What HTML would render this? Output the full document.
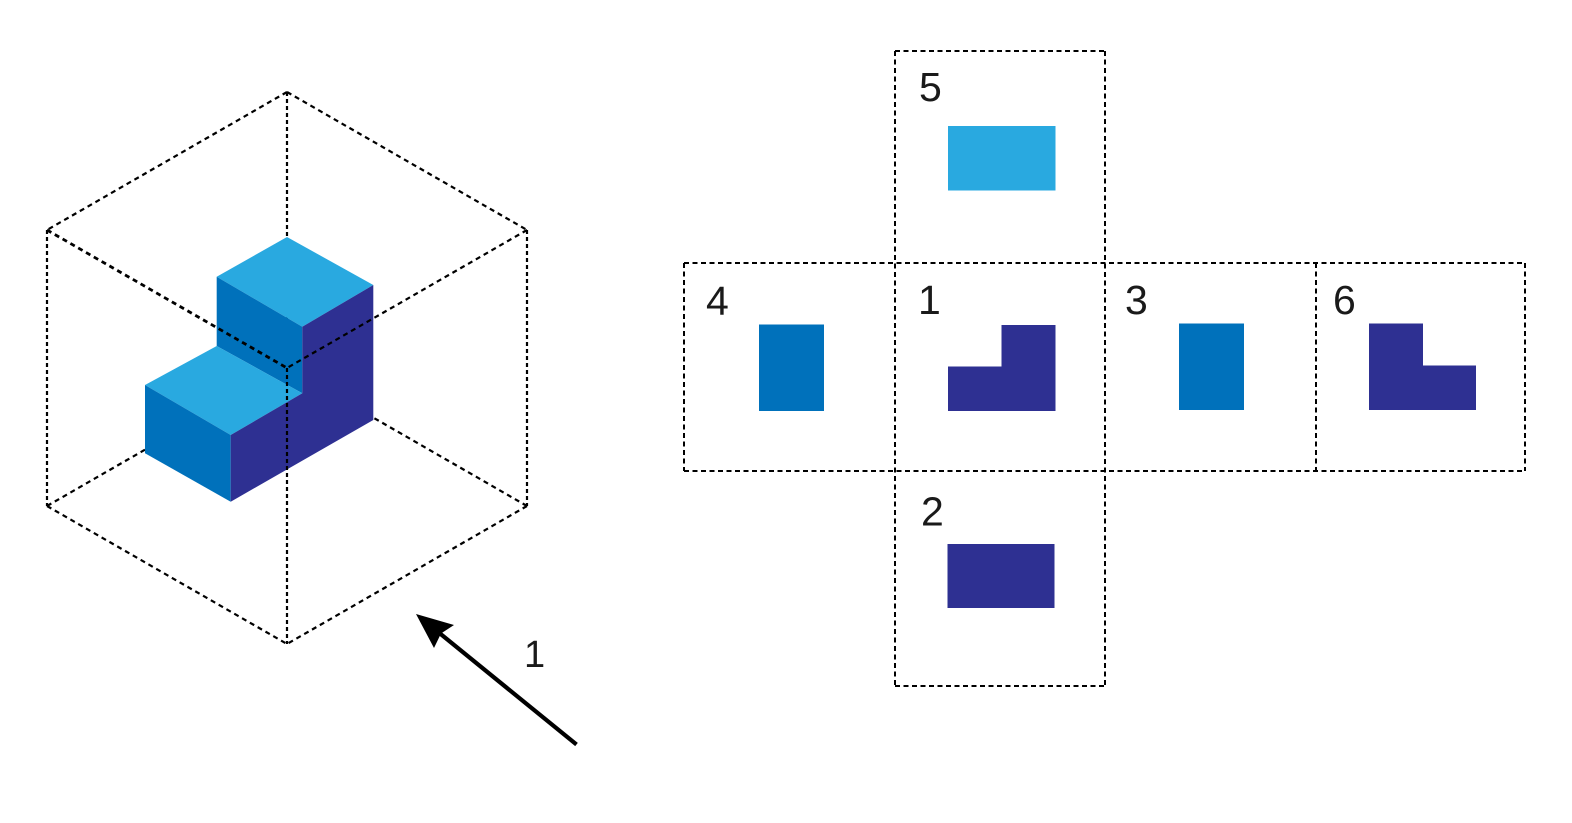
<!DOCTYPE html>
<html>
<head>
<meta charset="utf-8">
<style>
  html,body{margin:0;padding:0;background:#fff;}
  body{width:1572px;height:823px;overflow:hidden;}
  svg{display:block;}
  text{font-family:"Liberation Sans", sans-serif;fill:#1a1a1a;}
</style>
</head>
<body>
<svg width="1572" height="823" viewBox="0 0 1572 823" xmlns="http://www.w3.org/2000/svg">
  <rect x="0" y="0" width="1572" height="823" fill="#fff"/>

  <!-- Hidden back edges (under the cube) -->
  <g stroke="#000" stroke-width="2.2" fill="none">
    <line x1="287" y1="92" x2="287" y2="368" stroke-dasharray="4 3"/>
    <line x1="47" y1="506" x2="287" y2="368" stroke-dasharray="5 4"/>
    <line x1="527" y1="506" x2="287" y2="368" stroke-dasharray="5 4"/>
  </g>

  <!-- Cube shape -->
  <polygon points="287,237 216.7,276.7 302.3,326.7 373.3,285" fill="#29A9E0"/>
  <polygon points="216.7,276.7 302.3,326.7 302.3,393.3 216.7,346" fill="#0071BB"/>
  <polygon points="216.7,346 145,385 230.7,435 302.3,393.3" fill="#29A9E0"/>
  <polygon points="145,385 230.7,435 230.7,501.7 145,453.3" fill="#0071BB"/>
  <polygon points="373.3,285 302.3,326.7 302.3,393.3 230.7,435 230.7,501.7 373.3,420" fill="#2E3092"/>

  <!-- Outer and front dashed edges -->
  <g stroke="#000" stroke-width="2.2" fill="none">
    <line x1="287" y1="92" x2="47" y2="230" stroke-dasharray="5 4"/>
    <line x1="287" y1="92" x2="527" y2="230" stroke-dasharray="5 4"/>
    <line x1="47" y1="230" x2="47" y2="506" stroke-dasharray="4 3"/>
    <line x1="527" y1="230" x2="527" y2="506" stroke-dasharray="4 3"/>
    <line x1="47" y1="506" x2="287" y2="644" stroke-dasharray="5 4"/>
    <line x1="527" y1="506" x2="287" y2="644" stroke-dasharray="5 4"/>
    <line x1="47" y1="230" x2="287" y2="368" stroke-dasharray="5 4" stroke-width="2.8"/>
    <line x1="527" y1="230" x2="287" y2="368" stroke-dasharray="5 4"/>
    <line x1="287" y1="368" x2="287" y2="644" stroke-dasharray="4 3"/>
  </g>

  <!-- Arrow -->
  <line x1="576.5" y1="744.5" x2="432" y2="627" stroke="#000" stroke-width="4.2" stroke-linecap="butt"/>
  <polygon points="416,614 454,625 441,633.5 434,648" fill="#000"/>
  <text x="524" y="667" font-size="38">1</text>

  <!-- Net dashed grid -->
  <g stroke="#000" stroke-width="2" fill="none" stroke-dasharray="5 3.5">
    <line x1="895" y1="51" x2="1105" y2="51"/>
    <line x1="684" y1="263" x2="1525" y2="263"/>
    <line x1="684" y1="471" x2="1525" y2="471"/>
    <line x1="895" y1="686" x2="1105" y2="686"/>
    <line x1="684" y1="263" x2="684" y2="471"/>
    <line x1="895" y1="51" x2="895" y2="686"/>
    <line x1="1105" y1="51" x2="1105" y2="686"/>
    <line x1="1316" y1="263" x2="1316" y2="471"/>
    <line x1="1525" y1="263" x2="1525" y2="471"/>
  </g>

  <!-- Net faces -->
  <rect x="948" y="126" width="107.5" height="64.5" fill="#29A9E0"/>
  <rect x="759" y="324.5" width="65" height="86.5" fill="#0071BB"/>
  <polygon points="948,366.5 1001.5,366.5 1001.5,325 1055.5,325 1055.5,411 948,411" fill="#2E3092"/>
  <rect x="1179" y="323.5" width="65" height="86.5" fill="#0071BB"/>
  <polygon points="1369,323.5 1423,323.5 1423,365.5 1476,365.5 1476,410 1369,410" fill="#2E3092"/>
  <rect x="947.5" y="544" width="107" height="64" fill="#2E3092"/>

  <!-- Net labels -->
  <g font-size="41">
    <text x="919" y="101">5</text>
    <text x="706" y="315">4</text>
    <text x="918" y="314">1</text>
    <text x="1125" y="314">3</text>
    <text x="1333" y="314">6</text>
    <text x="921" y="525.5">2</text>
  </g>
</svg>
</body>
</html>
